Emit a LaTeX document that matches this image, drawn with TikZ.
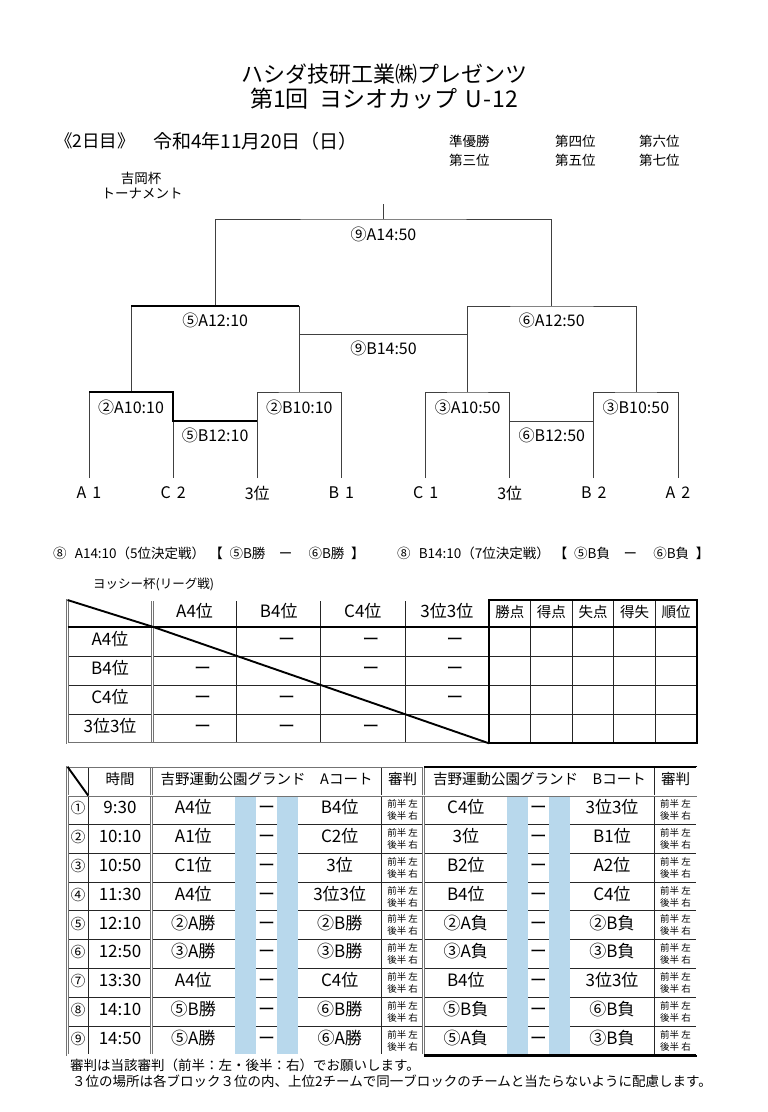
\documentclass[tikz,border=0pt]{standalone}
\usepackage{fontspec}
\setmainfont{Noto Sans CJK JP}
\usepackage{xcolor}
\usetikzlibrary{arrows.meta, positioning}
\definecolor{lane}{RGB}{184,216,236}
\definecolor{rim}{gray}{0.45}

\begin{document}
\begin{tikzpicture}[x=1pt, y=-1pt,
  title/.style={font=\fontsize{22}{22}\selectfont, inner sep=0pt},
  info/.style={font=\fontsize{13.5}{13.5}\selectfont, inner sep=0pt},
  tag/.style={font=\fontsize{16}{16}\selectfont, inner sep=0pt},
  cell/.style={font=\fontsize{17}{17}\selectfont, inner sep=0pt, text height=0.88em, text depth=0.12em},
  hdcell/.style={font=\fontsize{14.5}{14.5}\selectfont, inner sep=0pt, text height=0.88em, text depth=0.12em},
  refcell/.style={font=\fontsize{9.5}{12}\selectfont, align=center, inner sep=0pt},
  brk/.style={line width=0.9pt, black!75},
  win/.style={line width=1.9pt, black},
  tline/.style={line width=0.9pt, black!85},
  dbl/.style={draw=rim, line width=0.5pt, double=white, double distance=1.3pt},
  heavy/.style={line width=2pt, black}
]
  \fill[white] (0,0) rectangle (768,1112);
  \useasboundingbox (0,0) rectangle (768,1112);

  % heading
  \node[title] (head1) at (384,74) {ハシダ技研工業㈱プレゼンツ};
  \node[title, font=\fontsize{23}{23}\selectfont] (head2) at (384,99) {第1回\hspace{0.45em}ヨシオカップ\hspace{0.35em}U\hspace{0.05em}-\hspace{0.05em}12};
  \node[font=\fontsize{17.5}{17.5}\selectfont, inner sep=0pt, anchor=west] (day) at (55,141) {《2日目》};
  \node[font=\fontsize{19}{19}\selectfont, inner sep=0pt, anchor=west] (date) at (153,141) {令和4年11月20日（日）};
  \foreach \t/\x/\y [count=\i] in {準優勝/449/141, 第三位/449/160, 第四位/555/141, 第五位/555/160, 第六位/639/141, 第七位/639/160}
    \node[info, anchor=west] (rank\i) at (\x,\y) {\t};
  \node[info] (cup) at (141,178) {吉岡杯};
  \node[info] (cupsub) at (142,194) {トーナメント};

  % tournament bracket
  \foreach \x/\t [count=\i] in {89/A\hspace{6pt}1, 173.1/C\hspace{6pt}2, 257.3/3位, 341.4/B\hspace{6pt}1, 425.6/C\hspace{6pt}1, 509.7/3位, 593.9/B\hspace{6pt}2, 678/A\hspace{6pt}2} {
    \coordinate (s\i) at (\x,478);
    \node[tag] (leaf\i) at (\x,493) {\t};
  }
  \coordinate (q1) at (131.05,392);
  \coordinate (q2) at (299.35,392);
  \coordinate (q3) at (467.65,392);
  \coordinate (q4) at (635.95,392);
  \coordinate (h1) at (215.2,306);
  \coordinate (h2) at (551.8,306);
  \coordinate (fin) at (383.5,219);
  \coordinate (stem) at (383.5,204);
  \coordinate (c1) at (215.2,421);
  \coordinate (c2) at (551.8,421);
  \coordinate (c9) at (383.5,334);

  \draw[brk] (s1) |- (q1) -| (s2);
  \draw[brk] (s3) |- (q2) -| (s4);
  \draw[brk] (s5) |- (q3) -| (s6);
  \draw[brk] (s7) |- (q4) -| (s8);
  \draw[brk] (q1) |- (h1) -| (q2);
  \draw[brk] (q3) |- (h2) -| (q4);
  \draw[brk] (h1) |- (fin) -| (h2);
  \draw[brk] (fin) -- (stem);
  \draw[brk] (c1 -| s2) -- (c1 -| s3);
  \draw[brk] (c2 -| s6) -- (c2 -| s7);
  \draw[brk] (c9 -| q2) -- (c9 -| q3);
  \draw[win] (s1 |- q1) -- (s2 |- q1) -- (c1 -| s2) -- (c1 -| s3);
  \draw[win] (h1 -| q1) -- (h1 -| q2);

  \node[tag] (m9a) at (383.5,234) {⑨A14:50};
  \node[tag] (m5a) at (215.2,320) {⑤A12:10};
  \node[tag] (m6a) at (551.8,320) {⑥A12:50};
  \node[tag] (m9b) at (383.5,348) {⑨B14:50};
  \node[tag] (m2a) at (131.05,407) {②A10:10};
  \node[tag] (m2b) at (299.35,407) {②B10:10};
  \node[tag] (m3a) at (467.65,407) {③A10:50};
  \node[tag] (m3b) at (635.95,407) {③B10:50};
  \node[tag] (m5b) at (215.2,435) {⑤B12:10};
  \node[tag] (m6b) at (551.8,435) {⑥B12:50};

  \node[info, anchor=west] (place5) at (53,553) {⑧\hspace{0.6em}A14:10（5位決定戦）\hspace{0.3em}【\hspace{0.5em}⑤B勝\hspace{1em}ー\hspace{1.2em}⑥B勝\hspace{0.5em}】};
  \node[info, anchor=west] (place7) at (397,553) {⑧\hspace{0.6em}B14:10（7位決定戦）\hspace{0.3em}【\hspace{0.5em}⑤B負\hspace{1em}ー\hspace{1.2em}⑥B負\hspace{0.5em}】};

  % league table
  \node[font=\fontsize{12.5}{12.5}\selectfont, inner sep=0pt, anchor=west] (league) at (93,584) {ヨッシー杯(リーグ戦)};
  \foreach \x in {236.7,320.8,405,530.6,572.2,613.8,655.4}
    \draw[tline] (\x,600) -- (\x,743.3);
  \foreach \y in {656,685.3,714.4}
    \draw[tline] (67.5,\y) -- (697,\y);
  \draw[dbl] (152.5,600) -- (152.5,743.3);
  \draw[dbl] (67.5,600) rectangle (489,743.3);
  \draw[heavy] (489,600) rectangle (697,743.3);
  \draw[heavy] (67.5,626.7) -- (697,626.7);
  \draw[win] (67.5,600) -- (152.5,626.7);
  \draw[win] (152.5,626.7) -- (489,743.3);
  \foreach \t [count=\i] in {A4位,B4位,C4位,3位3位} {
    \node[cell] (colh\i) at ({194.6+84.1*(\i-1)},613.5) {\t};
    \node[cell] (rowh\i) at (110,{641.3+29.2*(\i-1)}) {\t};
  }
  \foreach \t [count=\i] in {勝点,得点,失点,得失,順位}
    \node[hdcell] (stat\i) at ({509.8+41.6*(\i-1)},613.5) {\t};
  \foreach \r in {1,...,4} {
    \foreach \c in {1,...,4} {
      \ifnum\r=\c\relax\else
        \node[cell] (dash\r\c) at ({202.6+84.1*(\c-1)},{641.3+29.2*(\r-1)}) {ー};
      \fi
    }
  }

  % schedule table
  \foreach \k in {1,...,8}
    \draw[tline] (67.5,{795.7+28.8*\k}) -- (697,{795.7+28.8*\k});
  \foreach \x in {88.3,381.7,654}
    \draw[tline] (\x,766.7) -- (\x,1054.9);
  \foreach \a/\b in {235/255.7, 277.3/297.7, 506.7/527.7, 549/570}
    \fill[lane] (\a,797) rectangle (\b,1054);
  \draw[dbl] (151.5,766.7) -- (151.5,1054.9);
  \draw[dbl] (67.5,766.7) rectangle (423.5,1054.9);
  \draw[heavy] (424,766.7) -- (697,766.7);
  \draw[line width=3pt] (424,1055.5) -- (697,1055.5);
  \draw[dbl] (697,766.7) -- (697,1054.9);
  \draw[dbl] (67.5,795.7) -- (697,795.7);
  \draw[win] (67.5,766.7) -- (88.3,795.7);

  \node[hdcell] (timeh) at (120,781) {時間};
  \node[hdcell] (courta) at (266.6,781) {吉野運動公園グランド\hspace{1em}Aコート};
  \node[hdcell] (refa) at (402.6,781) {審判};
  \node[hdcell] (courtb) at (539.5,781) {吉野運動公園グランド\hspace{1em}Bコート};
  \node[hdcell] (refb) at (675.5,781) {審判};

  \foreach \n/\tm/\ta/\tb/\tc/\td [count=\k] in {
      ①/9:30/A4位/B4位/C4位/3位3位,
      ②/10:10/A1位/C2位/3位/B1位,
      ③/10:50/C1位/3位/B2位/A2位,
      ④/11:30/A4位/3位3位/B4位/C4位,
      ⑤/12:10/②A勝/②B勝/②A負/②B負,
      ⑥/12:50/③A勝/③B勝/③A負/③B負,
      ⑦/13:30/A4位/C4位/B4位/3位3位,
      ⑧/14:10/⑤B勝/⑥B勝/⑤B負/⑥B負,
      ⑨/14:50/⑤A勝/⑥A勝/⑤A負/③B負} {
    \node[hdcell] (num\k) at (78,{781.3+28.8*\k}) {\n};
    \node[cell] (time\k) at (120,{781.3+28.8*\k}) {\tm};
    \node[cell] (ahome\k) at (193.3,{781.3+28.8*\k}) {\ta};
    \node[cell] (adash\k) at (266.5,{781.3+28.8*\k}) {ー};
    \node[cell] (aaway\k) at (339.7,{781.3+28.8*\k}) {\tb};
    \node[refcell] (aref\k) at (402.6,{781.3+28.8*\k}) {前半 左\\後半 右};
    \node[cell] (bhome\k) at (465.8,{781.3+28.8*\k}) {\tc};
    \node[cell] (bdash\k) at (538.4,{781.3+28.8*\k}) {ー};
    \node[cell] (baway\k) at (612,{781.3+28.8*\k}) {\td};
    \node[refcell] (bref\k) at (675.5,{781.3+28.8*\k}) {前半 左\\後半 右};
  }

  \node[info, anchor=west] (note1) at (70,1065) {審判は当該審判（前半：左・後半：右）でお願いします。};
  \node[info, anchor=west] (note2) at (72,1081) {３位の場所は各ブロック３位の内、上位2チームで同一ブロックのチームと当たらないように配慮します。};
\end{tikzpicture}
\end{document}
